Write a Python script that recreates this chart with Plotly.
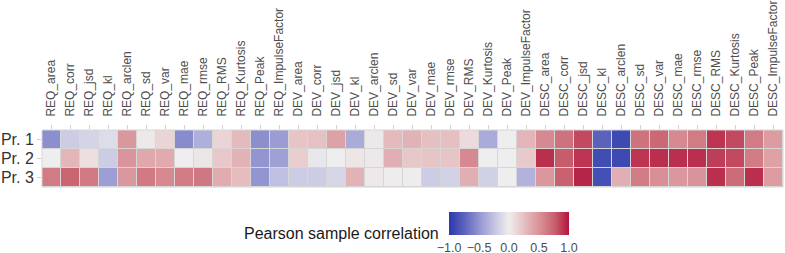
import plotly.graph_objects as go

features = ["area", "corr", "jsd", "kl", "arclen", "sd", "var", "mae", "rmse",
            "RMS", "Kurtosis", "Peak", "ImpulseFactor"]
groups = ["REQ", "DEV", "DESC"]
columns = [f"{g}_{f}" for g in groups for f in features]
rows = ["Pr. 1", "Pr. 2", "Pr. 3"]

# values per column: (Pr. 1, Pr. 2, Pr. 3)
req_vals = [
    (-0.53, 0.00, 0.62),   # area
    (-0.20, 0.30, 0.73),   # corr
    (-0.15, 0.08, 0.63),   # jsd
    (-0.10, -0.20, -0.45), # kl
    (0.48, 0.49, 0.48),    # arclen
    (0.03, 0.38, 0.63),    # sd
    (0.14, 0.37, 0.55),    # var
    (-0.55, 0.00, 0.62),   # mae
    (-0.36, 0.04, 0.64),   # rmse
    (0.14, 0.20, 0.36),    # RMS
    (0.28, 0.32, 0.26),    # Kurtosis
    (-0.53, -0.50, -0.50), # Peak
    (-0.46, -0.44, -0.27), # ImpulseFactor
]
dev_vals = [
    (0.22, 0.17, -0.20),
    (0.24, -0.04, -0.20),
    (0.42, 0.00, -0.14),
    (-0.38, 0.04, 0.32),
    (0.03, 0.03, 0.03),
    (0.28, 0.34, 0.01),
    (0.32, 0.21, 0.01),
    (0.25, 0.22, -0.20),
    (0.25, 0.22, -0.16),
    (0.10, 0.55, 0.34),
    (-0.38, 0.00, -0.17),
    (0.00, 0.00, 0.00),
    (0.31, 0.19, -0.34),
]
desc_vals = [
    (0.55, 0.92, 0.48),
    (0.67, 0.77, 0.75),
    (0.83, 0.90, 0.95),
    (-0.75, -0.88, -0.86),
    (-0.90, -0.90, 0.34),
    (0.67, 0.90, 0.62),
    (0.72, 0.92, 0.52),
    (0.55, 0.92, 0.48),
    (0.62, 0.92, 0.50),
    (0.90, 0.87, 0.92),
    (0.83, 0.83, 0.70),
    (0.62, 0.62, 0.92),
    (0.45, 0.42, 0.45),
]

all_vals = req_vals + dev_vals + desc_vals
z = [[col[i] for col in all_vals] for i in range(3)]

colorscale = [
    [0.0, "#2a3aaa"],
    [0.125, "#5a62bc"],
    [0.25, "#9395d0"],
    [0.375, "#c3c3e2"],
    [0.5, "#eeeeee"],
    [0.625, "#e6bfc1"],
    [0.75, "#d9939a"],
    [0.875, "#c9626f"],
    [1.0, "#b3153f"],
]

W, H = 785, 253
L, R, T, B = 42, 2, 130, 66
plot_w = W - L - R
plot_h = H - T - B

def px_x(p):
    return (p - L) / plot_w

def py(p):
    return (H - B - p) / plot_h

fig = go.Figure(go.Heatmap(
    z=z, x=columns, y=rows,
    zmin=-1, zmax=1, colorscale=colorscale,
    xgap=1, ygap=1,
    colorbar=dict(
        orientation="h",
        x=px_x(509), xanchor="center",
        y=py(212), yanchor="top",
        len=120, lenmode="pixels",
        thickness=23, thicknessmode="pixels",
        xpad=0, ypad=0, outlinewidth=0, borderwidth=0,
        tickvals=[-1, -0.5, 0, 0.5, 1],
        ticktext=["\u22121.0", "\u22120.5", "0.0", "0.5", "1.0"],
        ticks="outside", ticklen=2, tickcolor="white", tickwidth=1,
        tickfont=dict(family="Liberation Sans, Arial", size=12.5, color="#4d4d4d"),
    ),
))

fig.update_layout(
    width=W, height=H,
    margin=dict(l=L, r=R, t=T, b=B, autoexpand=False),
    paper_bgcolor="white",
    plot_bgcolor="#d6d6d6",
    font=dict(family="Liberation Sans, Arial", color="#4d4d4d"),
    xaxis=dict(side="top", tickangle=-90, ticks="outside", ticklen=4,
               tickcolor="#d0d0d0", showgrid=False, zeroline=False,
               tickfont=dict(size=12, color="#4d4d4d"),
               ticklabelstandoff=6, automargin=False),
    yaxis=dict(autorange="reversed", ticks="outside", ticklen=4,
               tickcolor="#d0d0d0", showgrid=False, zeroline=False,
               tickfont=dict(size=16, color="#333333"), automargin=False),
    annotations=[dict(
        text="Pearson sample correlation", xref="paper", yref="paper",
        x=px_x(441), y=py(233.5), xanchor="right", yanchor="middle",
        showarrow=False, font=dict(size=16, color="#1a1a1a"),
    )],
    shapes=[dict(type="rect", xref="paper", yref="paper", x0=0, x1=1, y0=0, y1=1,
                 line=dict(color="#d6d6d6", width=1), fillcolor="rgba(0,0,0,0)")],
)

fig.write_html("out.html", config={"displayModeBar": False},
               post_script="document.body.style.margin='0';")
